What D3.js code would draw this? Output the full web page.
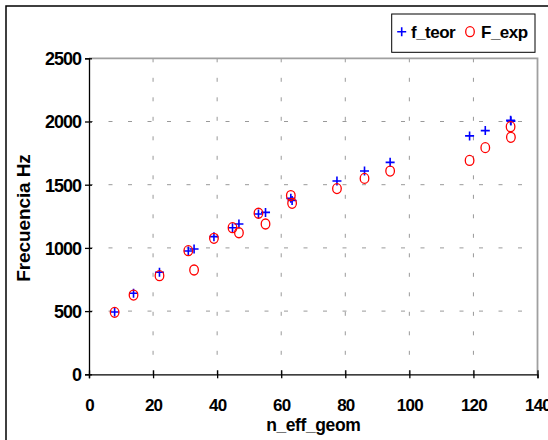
<!DOCTYPE html>
<html>
<head>
    <meta charset="utf-8">
    <title>Frecuencia vs n_eff_geom</title>
    <script src="https://cdn.jsdelivr.net/npm/d3@7/dist/d3.min.js"></script>
    <style>
        body { margin: 0; background: white; }
        svg text { font-family: "Liberation Sans", Arial, sans-serif; font-weight: bold; fill: black; }
    </style>
</head>
<body>
    <svg width="548" height="440" id="mainsvg"></svg>
    <script>
        // values
        const nEff = [8.0, 13.9, 22.0, 31.0, 32.8, 39.0, 44.8, 46.8, 52.9, 55.1, 63.0, 63.4, 77.4, 86.0, 94.0, 118.8, 123.7, 131.6, 131.7];
        const fTeor = [493, 641, 807, 975, 991, 1089, 1160, 1189, 1268, 1281, 1392, 1375, 1529, 1608, 1677, 1886, 1928, 2010, 2003];
        const fExp = [490, 627, 780, 978, 825, 1076, 1160, 1120, 1274, 1189, 1414, 1353, 1469, 1550, 1608, 1692, 1793, 1959, 1875];
        const xTicks = [0, 20, 40, 60, 80, 100, 120, 140];
        const yTicks = [0, 500, 1000, 1500, 2000, 2500];

        const svg = d3.select('svg');
        const plotL = 89, plotR = 537.5, plotT = 58.3, plotB = 374.3;

        const x = d3.scaleLinear().domain([0, 140]).range([plotL, plotR]);
        const y = d3.scaleLinear().domain([0, 2500]).range([plotB, plotT]);

        // outer chart frame
        svg.append('rect')
            .attr('x', 6).attr('y', 6).attr('width', 600).attr('height', 500)
            .attr('fill', 'white').attr('stroke', 'black').attr('stroke-width', 1.5);

        // grid
        svg.append('g').selectAll('line').data(yTicks.slice(1, -1)).join('line')
            .attr('x1', plotL).attr('x2', plotR)
            .attr('y1', d => y(d)).attr('y2', d => y(d))
            .attr('stroke', '#999').attr('stroke-dasharray', '4,15.5');
        svg.append('g').selectAll('line').data(xTicks.slice(1, -1)).join('line')
            .attr('y1', plotB).attr('y2', plotT)
            .attr('x1', d => x(d)).attr('x2', d => x(d))
            .attr('stroke', '#999').attr('stroke-dasharray', '4,15.5');

        // plot area border (top, right)
        svg.append('path')
            .attr('d', `M${plotL},${plotT}H${plotR}V${plotB}`)
            .attr('fill', 'none').attr('stroke', '#a0a0a0').attr('stroke-width', 1.8);

        // axes
        const xAxis = svg.append('g')
            .attr('transform', `translate(0,${plotB})`)
            .call(d3.axisBottom(x).tickValues(xTicks).tickSize(4).tickFormat(d3.format('d')));
        xAxis.attr('font-family', null).attr('font-size', null);
        xAxis.selectAll('.tick line').attr('y1', -4).attr('stroke-width', 1.3);
        xAxis.select('.domain').attr('stroke-width', 1.3);
        xAxis.selectAll('text').attr('y', 0).attr('dy', 36.5).attr('font-size', 17).attr('letter-spacing', -0.8);

        const yAxis = svg.append('g')
            .attr('transform', `translate(${plotL},0)`)
            .call(d3.axisLeft(y).tickValues(yTicks).tickSize(4).tickFormat(d3.format('d')));
        yAxis.attr('font-family', null).attr('font-size', null);
        yAxis.selectAll('.tick line').attr('x1', -4).attr('x2', 3).attr('stroke-width', 1.3);
        yAxis.select('.domain').attr('stroke-width', 1.3);
        yAxis.selectAll('text').attr('x', -8).attr('dy', '0.36em').attr('font-size', 18).attr('letter-spacing', -1);

        // axis titles
        svg.append('text')
            .attr('x', (plotL + plotR) / 2).attr('y', 430.5)
            .attr('text-anchor', 'middle').attr('font-size', 17.5).attr('letter-spacing', -0.4)
            .text('n_eff_geom');
        svg.append('text')
            .attr('transform', 'translate(30,218) rotate(-90)')
            .attr('text-anchor', 'middle').attr('font-size', 19).attr('letter-spacing', -0.1)
            .text('Frecuencia Hz');

        // series
        const pts = nEff.map((d, i) => ({ n: d, teor: fTeor[i], exp: fExp[i] }));
        const plus = (cx, cy) => `M${cx - 4.5},${cy}H${cx + 4.5}M${cx},${cy - 4.5}V${cy + 4.5}`;

        svg.append('g').selectAll('path').data(pts).join('path')
            .attr('d', d => plus(x(d.n), y(d.teor)))
            .attr('stroke', '#0000ff').attr('stroke-width', 1.6).attr('fill', 'none');

        svg.append('g').selectAll('ellipse').data(pts).join('ellipse')
            .attr('cx', d => x(d.n)).attr('cy', d => y(d.exp))
            .attr('rx', 4.3).attr('ry', 5)
            .attr('stroke', '#ff0000').attr('stroke-width', 1.3).attr('fill', 'none');

        // legend
        const legend = svg.append('g');
        legend.append('rect')
            .attr('x', 391.7).attr('y', 14).attr('width', 143.3).attr('height', 38.3)
            .attr('fill', 'white').attr('stroke', 'black').attr('stroke-width', 1);
        legend.append('path')
            .attr('d', plus(401.7, 31.7))
            .attr('stroke', '#0000ff').attr('stroke-width', 1.6);
        legend.append('text').attr('x', 411).attr('y', 37.5)
            .attr('font-size', 17).attr('letter-spacing', -0.5).text('f_teor');
        legend.append('ellipse')
            .attr('cx', 470).attr('cy', 31.7).attr('rx', 4.3).attr('ry', 5)
            .attr('stroke', '#ff0000').attr('stroke-width', 1.3).attr('fill', 'none');
        legend.append('text').attr('x', 481).attr('y', 37.5)
            .attr('font-size', 17).attr('letter-spacing', -0.5).text('F_exp');
    </script>
</body>
</html>
